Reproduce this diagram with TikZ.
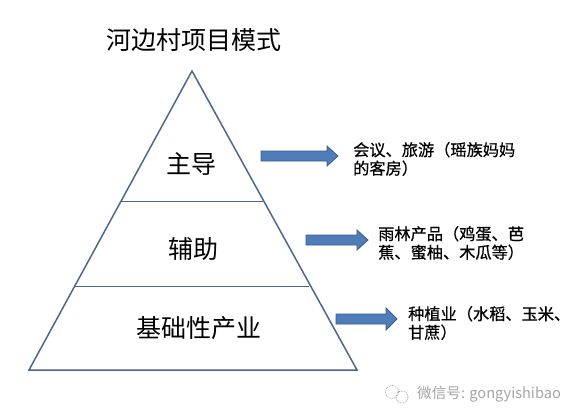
\documentclass[tikz,border=0pt]{standalone}
\usepackage{fontspec}
\setmainfont{Noto Sans CJK SC}
\newfontfamily\notefont[FakeBold=0.6]{Noto Sans CJK SC}
\begin{document}
\begin{tikzpicture}[x=1pt,y=-1pt,
  tri/.style={draw=triblue,line width=1.5pt,line join=miter},
  band/.style={draw=triblue,line width=0.8pt},
  blockarrow/.style={fill=arrowblue,draw=arrowedge,line width=0.8pt,line join=miter},
  level/.style={font=\fontsize{25}{25}\selectfont,text=black,inner sep=0pt},
  note/.style={font=\notefont\fontsize{16.2}{18.5}\selectfont,text=black,inner sep=0pt,align=left,anchor=west},
  wmark/.style={font=\fontsize{14.6}{16}\selectfont,text=markgray,inner sep=0pt,anchor=west}]
\definecolor{triblue}{RGB}{74,104,145}
\definecolor{arrowblue}{RGB}{79,125,186}
\definecolor{arrowedge}{RGB}{56,93,138}
\definecolor{markgray}{RGB}{165,165,165}
\useasboundingbox (0,0) rectangle (588,409);
\fill[white] (0,0) rectangle (588,409);
\coordinate (apex) at (192,71);
\coordinate (bl) at (29,370);
\coordinate (br) at (357,370);
\coordinate (l1) at (121,201);
\coordinate (r1) at (263,201);
\coordinate (l2) at (75,286);
\coordinate (r2) at (309,286);
\draw[tri] (apex) -- (bl) -- (br) -- cycle;
\draw[band] (l1) -- (r1);
\draw[band] (l2) -- (r2);
\node[font=\fontsize{25}{25}\selectfont,inner sep=0pt] (title) at (193.5,40) {河边村项目模式};
\node[level] (t1) at (191,164) {主导};
\node[level] (t2) at (193,249) {辅助};
\node[level] (t3) at (198.5,328) {基础性产业};
\draw[blockarrow] (261,151) -- (327,151) -- (327,146) -- (338,156) -- (327,166) -- (327,161) -- (261,161) -- cycle;
\draw[blockarrow] (306,235) -- (357,235) -- (357,230) -- (368,240) -- (357,250) -- (357,245) -- (306,245) -- cycle;
\draw[blockarrow] (336,314) -- (386,314) -- (386,308) -- (397,319) -- (386,330) -- (386,324) -- (336,324) -- cycle;
\node[note] (n1) at (353,159) {会议、旅游（瑶族妈妈\\的客房）};
\node[note] (n2) at (378,243) {雨林产品（鸡蛋、芭\\蕉、蜜柚、木瓜等）};
\node[note] (n3) at (408,323) {种植业（水稻、玉米、\\甘蔗）};
\node[wmark] (wm) at (417,394) {微信号: gongyishibao};
\draw[markgray,densely dotted,line width=0.8pt] (392,392) circle (6.5);
\draw[markgray,densely dotted,line width=0.8pt] (402,397) circle (6);
\end{tikzpicture}
\end{document}
